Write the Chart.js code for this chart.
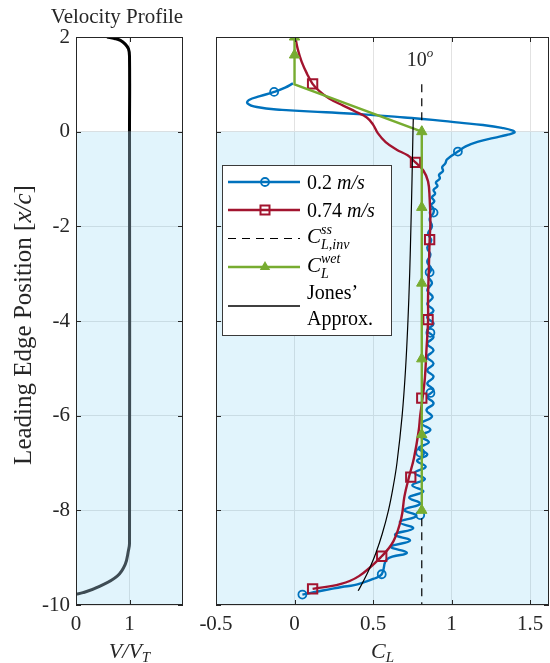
<!DOCTYPE html>
<html>
<head>
<meta charset="utf-8">
<script src="https://cdn.jsdelivr.net/npm/chart.js@4.4.0/dist/chart.umd.min.js"></script>
<style>
  html, body { margin: 0; padding: 0; background: #fff; }
  #wrap { position: relative; width: 550px; height: 663px; overflow: hidden; }
  canvas { position: absolute; top: 0; }
  #left { left: 0; }
  #right { left: 192px; }
</style>
</head>
<body>
<div id="wrap">
  <canvas id="left" width="192" height="663"></canvas>
  <canvas id="right" width="358" height="663"></canvas>
</div>
<script>
// ---- tick labels
const yTicks = [-10, -8, -6, -4, -2, 0, 2];
const velTicks = [0, 1];
const clTicks = [-0.5, 0, 0.5, 1, 1.5];

// ---- velocity profile (V/V_T vs x/c)
const velV = [0.58, 0.72, 0.83, 0.92, 0.98, 1.0, 1.0, 1.0, 0.98, 0.92, 0.77, 0.45, 0.13, 0.0];
const velY = [2.0, 1.97, 1.93, 1.85, 1.75, 1.6, 0, -8.7, -8.85, -9.14, -9.39, -9.6, -9.74, -9.77];

// ---- 0.2 m/s
const blueCL = [-0.01, -0.06, -0.13, -0.22, -0.29, -0.30, -0.24, -0.08, 0.20, 0.46, 0.70, 0.88, 1.05, 1.20, 1.32, 1.39, 1.40, 1.35, 1.27, 1.17, 1.09, 1.04,
  1.00, 0.97, 0.96, 0.94, 0.945, 0.92, 0.925, 0.90, 0.91, 0.885, 0.895, 0.875, 0.89, 0.87, 0.885, 0.885,
  0.860, 0.875, 0.850, 0.870, 0.845, 0.865, 0.845, 0.870, 0.850, 0.875, 0.845, 0.880, 0.845, 0.885, 0.845, 0.885, 0.845, 0.885,
  0.845, 0.885, 0.845, 0.885, 0.845, 0.885, 0.845, 0.885, 0.845, 0.885, 0.840, 0.875,
  0.810, 0.865, 0.800, 0.855, 0.790, 0.845, 0.780, 0.835, 0.765, 0.830, 0.750, 0.820, 0.730, 0.800, 0.700, 0.775, 0.670, 0.755,
  0.640, 0.735, 0.615, 0.715, 0.590, 0.555, 0.50, 0.44, 0.38, 0.30, 0.22, 0.14, 0.08, 0.05];
const blueY = [1.02, 0.93, 0.84, 0.75, 0.67, 0.60, 0.52, 0.46, 0.41, 0.36, 0.30, 0.25, 0.19, 0.14, 0.08, 0.02, -0.02, -0.07, -0.13, -0.21, -0.31, -0.42,
  -0.51, -0.59, -0.67, -0.75, -0.83, -0.91, -0.99, -1.07, -1.15, -1.23, -1.31, -1.39, -1.47, -1.55, -1.63, -1.71,
  -1.85, -2.0, -2.15, -2.3, -2.45, -2.6, -2.75, -2.9, -3.05, -3.2, -3.35, -3.5, -3.64, -3.78, -3.92, -4.06, -4.2, -4.34,
  -4.48, -4.62, -4.76, -4.9, -5.04, -5.18, -5.32, -5.46, -5.6, -5.74, -5.88, -6.02,
  -6.16, -6.3, -6.43, -6.56, -6.69, -6.82, -6.95, -7.08, -7.21, -7.34, -7.47, -7.6, -7.73, -7.86, -7.99, -8.12, -8.25, -8.38,
  -8.51, -8.64, -8.77, -8.9, -9.03, -9.35, -9.45, -9.52, -9.58, -9.62, -9.67, -9.72, -9.76, -9.78];
const blueMarkCL = [-0.13, 1.04, 0.885, 0.86, 0.865, 0.865, 0.80, 0.80, 0.555, 0.05];
const blueMarkY = [0.84, -0.42, -1.71, -2.97, -4.25, -5.52, -6.78, -8.1, -9.35, -9.78];

// ---- 0.74 m/s
const redCL = [0.005, 0.02, 0.045, 0.08, 0.115, 0.16, 0.22, 0.31, 0.39, 0.46, 0.50, 0.53, 0.58, 0.65, 0.72, 0.77, 0.82, 0.85, 0.86, 0.865,
  0.86, 0.855, 0.85, 0.85, 0.84, 0.83, 0.815, 0.80, 0.79, 0.76, 0.73, 0.70, 0.68, 0.63, 0.555, 0.41, 0.29, 0.115];
const redY = [2.0, 1.75, 1.48, 1.22, 1.01, 0.85, 0.70, 0.55, 0.42, 0.30, 0.15, -0.03, -0.22, -0.38, -0.5, -0.65, -0.82, -1.05, -1.4, -1.9,
  -2.3, -2.9, -3.5, -4.0, -4.6, -5.2, -5.63, -6.0, -6.33, -6.9, -7.28, -7.7, -8.16, -8.65, -8.97, -9.39, -9.56, -9.66];
const redMarkCL = [0.115, 0.77, 0.86, 0.85, 0.81, 0.74, 0.555, 0.115];
const redMarkY = [1.01, -0.65, -2.28, -3.97, -5.63, -7.3, -8.97, -9.66];

// ---- C_L^wet
const wetCL = [0, 0, 0, 0.81, 0.81, 0.81, 0.81, 0.81, 0.81];
const wetY = [2.0, 1.62, 1.0, 0, -1.6, -3.2, -4.8, -6.4, -8.0];
const wetMarkCL = [0, 0, 0.81, 0.81, 0.81, 0.81, 0.81, 0.81];
const wetMarkY = [2.0, 1.62, 0, -1.6, -3.2, -4.8, -6.4, -8.0];

// ---- C_L,inv^ss
const ssCL = [0.81, 0.81];
const ssY = [1.0, -10];

// ---- Jones' approximation
const jonesCL = [0.405, 0.438, 0.481, 0.518, 0.558, 0.598, 0.628, 0.652, 0.685, 0.707, 0.722, 0.733, 0.741, 0.748, 0.754, 0.756];
const jonesY = [-9.7, -9.5, -9.2, -8.9, -8.5, -8.0, -7.5, -7.0, -6.0, -5.0, -4.0, -3.0, -2.0, -1.0, 0, 0.27];

const SERIF = '"Liberation Serif", "Times New Roman", serif';
const AX = '#262626';
const GRID = '#e2e2e2';
const SHADE = 'rgba(77,190,238,0.17)';
const BLUE = '#0072bd', RED = '#a2142f', GREEN = '#77ac30';

const pts = (xs, ys) => xs.map((x, i) => ({ x: x, y: ys[i] }));

function font(sz, it) { return (it ? 'italic ' : '') + sz + 'px ' + SERIF; }

// parts: [text, size, italic, dy, noAdvance]
function rich(ctx, parts, x, y, align) {
  let w = 0;
  parts.forEach(p => {
    ctx.font = font(p[1], p[2]);
    p.w = ctx.measureText(p[0]).width;
    if (!p[4]) w += p.w;
  });
  let cx = align === 'center' ? x - w / 2 : x;
  ctx.textAlign = 'left';
  ctx.textBaseline = 'alphabetic';
  parts.forEach(p => {
    ctx.font = font(p[1], p[2]);
    ctx.fillText(p[0], cx, y + (p[3] || 0));
    if (!p[4]) cx += p.w;
  });
}

function shade(chart) {
  const { ctx, chartArea: a, scales: { y } } = chart;
  const top = y.getPixelForValue(0);
  ctx.save();
  ctx.fillStyle = SHADE;
  ctx.fillRect(a.left, top, a.right - a.left, a.bottom - top);
  ctx.restore();
}

function boxAndTicks(chart, xv, yv) {
  const { ctx, chartArea: a, scales: { x, y } } = chart;
  ctx.save();
  ctx.strokeStyle = AX;
  ctx.lineWidth = 1;
  ctx.beginPath();
  xv.forEach(v => {
    const p = Math.round(x.getPixelForValue(v)) + 0.5;
    ctx.moveTo(p, a.bottom); ctx.lineTo(p, a.bottom - 5);
    ctx.moveTo(p, a.top); ctx.lineTo(p, a.top + 5);
  });
  yv.forEach(v => {
    const p = Math.round(y.getPixelForValue(v)) + 0.5;
    ctx.moveTo(a.left, p); ctx.lineTo(a.left + 5, p);
    ctx.moveTo(a.right, p); ctx.lineTo(a.right - 5, p);
  });
  ctx.stroke();
  ctx.strokeRect(Math.round(a.left) + 0.5, Math.round(a.top) + 0.5,
    Math.round(a.right - a.left) - 1, Math.round(a.bottom - a.top) - 1);
  ctx.restore();
}

function marker(ctx, kind, color, x, y) {
  ctx.save();
  ctx.strokeStyle = color;
  ctx.fillStyle = color;
  ctx.beginPath();
  if (kind === 'circle') {
    ctx.lineWidth = 1.8;
    ctx.arc(x, y, 4, 0, Math.PI * 2);
    ctx.stroke();
  } else if (kind === 'rect') {
    ctx.lineWidth = 2;
    ctx.rect(x - 4.5, y - 4.5, 9, 9);
    ctx.stroke();
  } else {
    ctx.moveTo(x, y - 6);
    ctx.lineTo(x + 5.2, y + 3);
    ctx.lineTo(x - 5.2, y + 3);
    ctx.closePath();
    ctx.fill();
  }
  ctx.restore();
}

function tickFont() { return { family: SERIF, size: 21 }; }

const leftDeco = {
  id: 'leftDeco',
  beforeDatasetsDraw(chart) { shade(chart); },
  afterDraw(chart) {
    const { ctx, chartArea: a } = chart;
    boxAndTicks(chart, velTicks, yTicks);
    ctx.save();
    ctx.fillStyle = AX;
    rich(ctx, [['Velocity Profile', 21, false]], 117, 23, 'center');
    rich(ctx, [['V', 22, true], ['/', 22, true], ['V', 22, true], ['T', 15, true, 4]], (a.left + a.right) / 2, 658, 'center');
    ctx.translate(31, 325);
    ctx.rotate(-Math.PI / 2);
    rich(ctx, [['Leading Edge Position [', 25, false], ['x/c', 25, true], [']', 25, false]], 0, 0, 'center');
    ctx.restore();
  }
};

const rightDeco = {
  id: 'rightDeco',
  beforeDatasetsDraw(chart) { shade(chart); },
  afterDraw(chart) {
    const { ctx, chartArea: a, scales: { x } } = chart;
    boxAndTicks(chart, clTicks, yTicks);
    ctx.save();
    ctx.fillStyle = AX;
    rich(ctx, [['10', 20, false], ['o', 13, true, -9]], x.getPixelForValue(0.81) - 15, 66);
    rich(ctx, [['C', 22, true], ['L', 15, true, 4]], (a.left + a.right) / 2, 658, 'center');

    // legend
    const L = 30, T = 165, W = 169, H = 170;
    ctx.fillStyle = '#fff';
    ctx.fillRect(L, T, W, H);
    ctx.strokeStyle = '#3a3a3a';
    ctx.lineWidth = 1;
    ctx.strokeRect(L + 0.5, T + 0.5, W, H);
    const x0 = 36, x1 = 108, xm = 73, tx = 115;
    const row = (yy, color, width, dash) => {
      ctx.save();
      ctx.strokeStyle = color; ctx.lineWidth = width; ctx.setLineDash(dash || []);
      ctx.beginPath(); ctx.moveTo(x0, yy); ctx.lineTo(x1, yy); ctx.stroke();
      ctx.restore();
    };
    row(182, BLUE, 2.5); marker(ctx, 'circle', BLUE, xm, 182);
    row(210, RED, 2.5); marker(ctx, 'rect', RED, xm, 210);
    row(238.5, '#000', 1.2, [8, 6]);
    row(267, GREEN, 2.5); marker(ctx, 'triangle', GREEN, xm, 267);
    row(306, '#000', 1.5);
    ctx.fillStyle = '#000';
    rich(ctx, [['0.2 ', 20, false], ['m/s', 20, true]], tx, 189);
    rich(ctx, [['0.74 ', 20, false], ['m/s', 20, true]], tx, 217);
    rich(ctx, [['C', 21, true], ['ss', 14, true, -9, true], ['L,inv', 14, true, 6]], tx, 243);
    rich(ctx, [['C', 21, true], ['L', 14, true, 6, true], ['wet', 14, true, -9]], tx, 272);
    rich(ctx, [['Jones\u2019', 20, false]], tx, 299);
    rich(ctx, [['Approx.', 20, false]], tx, 325);
    ctx.restore();
  }
};

const fitX = s => { s.height = 58; s.paddingLeft = 0; s.paddingRight = 0; };

const yScale = (showLabels, width) => ({
  type: 'linear', min: -10, max: 2,
  afterBuildTicks: s => { s.ticks = yTicks.map(v => ({ value: v })); },
  afterFit: s => { s.width = width; s.paddingTop = 0; s.paddingBottom = 0; },
  grid: { color: GRID, drawTicks: false },
  border: { display: false },
  ticks: { display: showLabels, padding: 6, color: AX, font: tickFont(), callback: v => String(v) }
});

new Chart(document.getElementById('left'), {
  type: 'scatter',
  data: {
    datasets: [{
      data: pts(velV, velY),
      showLine: true, borderWidth: 3, pointRadius: 0, tension: 0.4,
      borderColor: '#000',
      segment: { borderColor: c => (c.p1.parsed.y < 0 ? '#3e4c54' : '#000') }
    }]
  },
  options: {
    responsive: false, animation: false,
    layout: { autoPadding: false, padding: { top: 37, right: 9, left: 0, bottom: 0 } },
    plugins: { legend: { display: false }, tooltip: { enabled: false } },
    scales: {
      x: {
        type: 'linear', min: 0, max: 2,
        afterBuildTicks: s => { s.ticks = velTicks.map(v => ({ value: v })); },
        afterFit: fitX,
        grid: { color: GRID, drawTicks: false },
        border: { display: false },
        ticks: { padding: 7, color: AX, font: tickFont(), maxRotation: 0, callback: v => String(v) }
      },
      y: yScale(true, 76)
    }
  },
  plugins: [leftDeco]
});

const lineSet = (xs, ys, color, width, order, extra) => Object.assign({
  data: pts(xs, ys), showLine: true, borderColor: color, borderWidth: width,
  pointRadius: 0, order: order, tension: 0
}, extra || {});

const markSet = (xs, ys, color, style, radius, order, filled) => ({
  data: pts(xs, ys), showLine: false, pointStyle: style, pointRadius: radius,
  pointBorderColor: color, pointBackgroundColor: filled ? color : 'rgba(0,0,0,0)',
  pointBorderWidth: style === 'triangle' ? 1 : (style === 'rect' ? 2 : 1.8), order: order
});

new Chart(document.getElementById('right'), {
  type: 'scatter',
  data: {
    datasets: [
      lineSet(blueCL, blueY, BLUE, 2.4, 10, { tension: 0.45 }),
      markSet(blueMarkCL, blueMarkY, BLUE, 'circle', 4, 9, false),
      lineSet(redCL, redY, RED, 2.4, 8, { tension: 0.4 }),
      markSet(redMarkCL, redMarkY, RED, 'rect', 6.6, 7, false),
      lineSet(ssCL, ssY, '#000', 1.2, 6, { borderDash: [8, 6] }),
      lineSet(wetCL, wetY, GREEN, 2.4, 5),
      markSet(wetMarkCL, wetMarkY, GREEN, 'triangle', 6, 4, true),
      lineSet(jonesCL, jonesY, '#000', 1.2, 3, { tension: 0.4 })
    ]
  },
  options: {
    responsive: false, animation: false,
    layout: { autoPadding: false, padding: { top: 37, right: 1, left: 0, bottom: 0 } },
    plugins: { legend: { display: false }, tooltip: { enabled: false } },
    scales: {
      x: {
        type: 'linear', min: -0.5, max: 1.62,
        afterBuildTicks: s => { s.ticks = clTicks.map(v => ({ value: v })); },
        afterFit: fitX,
        grid: { color: GRID, drawTicks: false },
        border: { display: false },
        ticks: { padding: 7, color: AX, font: tickFont(), maxRotation: 0, callback: v => String(v) }
      },
      y: yScale(false, 24)
    }
  },
  plugins: [rightDeco]
});
</script>
</body>
</html>
